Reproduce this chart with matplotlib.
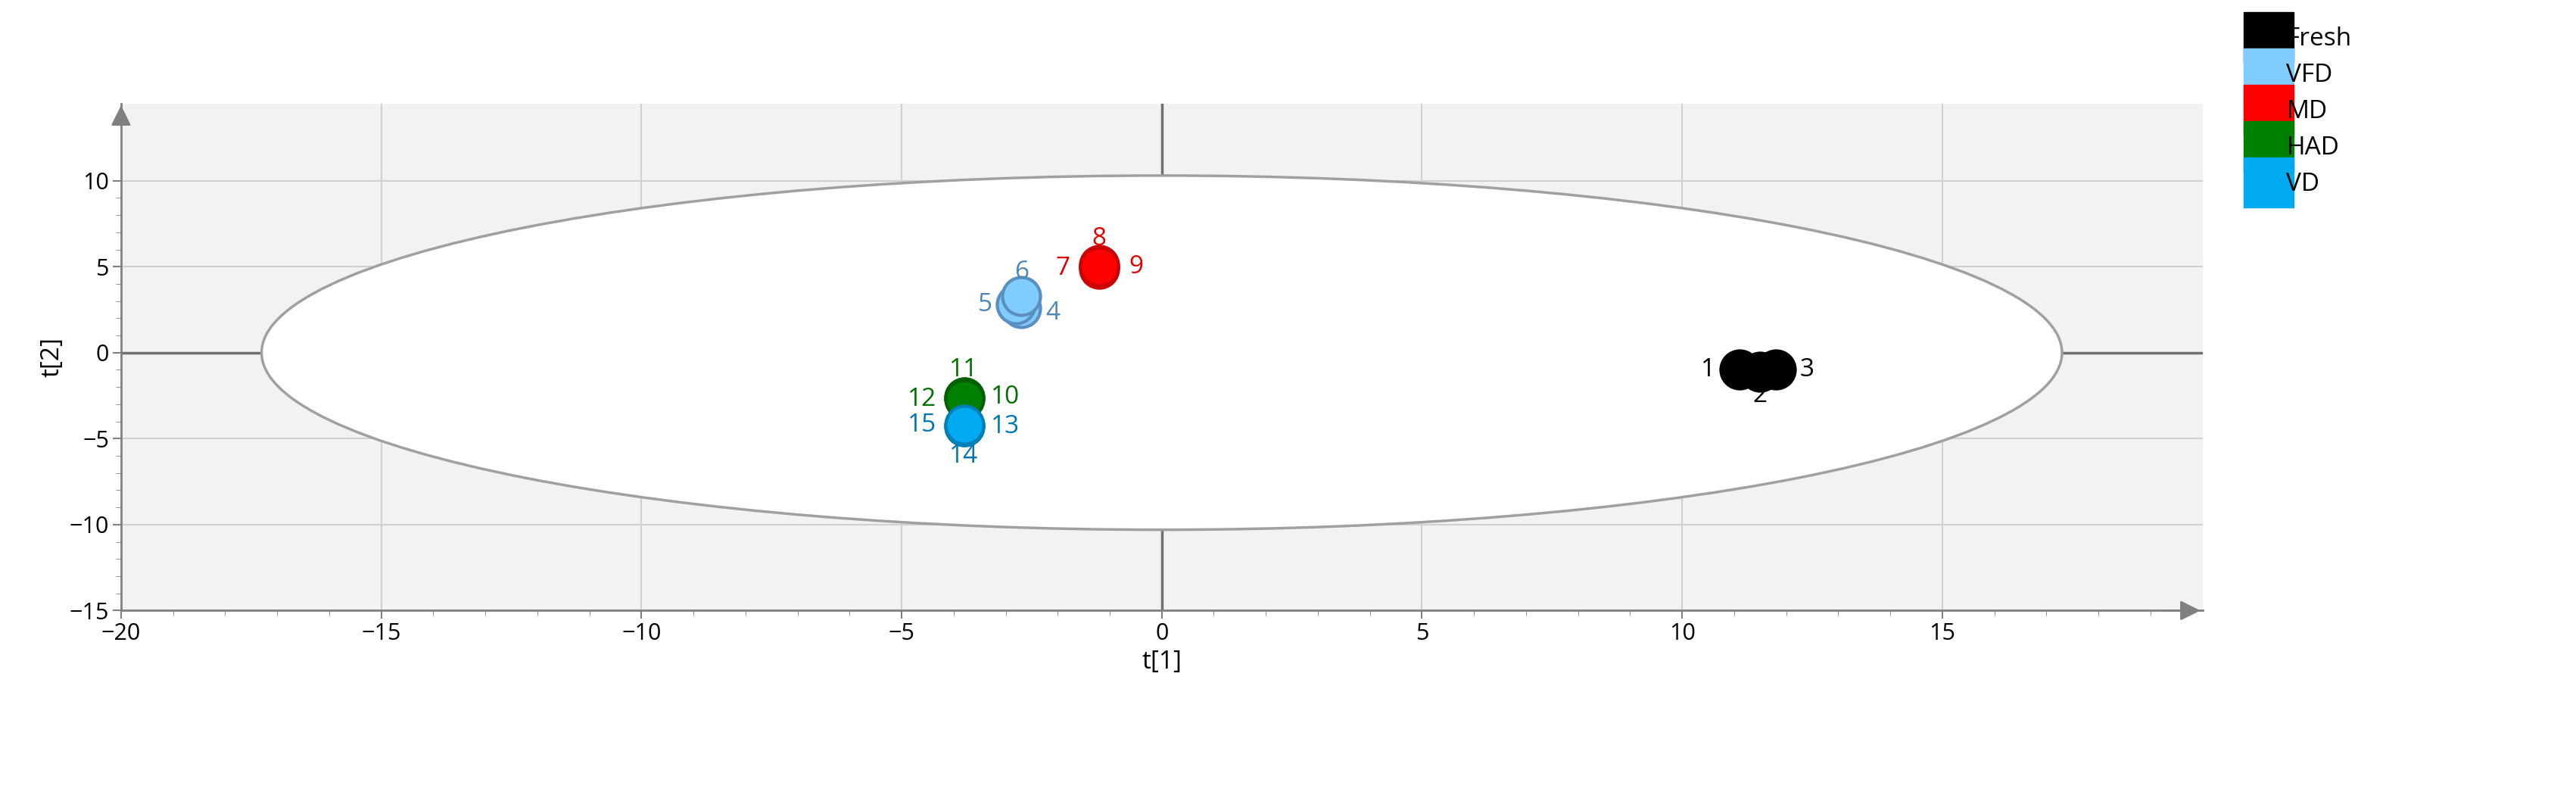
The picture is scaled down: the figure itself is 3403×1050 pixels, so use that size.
import matplotlib.pyplot as plt
from matplotlib.patches import Ellipse
from matplotlib.lines import Line2D

plt.rcParams['font.family'] = ['Open Sans', 'DejaVu Sans']

groups = ['Fresh', 'VFD', 'MD', 'HAD', 'VD']
colors = ['#000000', '#80ccff', '#ff0000', '#008000', '#00aaf0']
edges = ['#000000', '#5a8fc0', '#cc0000', '#006000', '#0080b8']
label_colors = ['#000000', '#4f86b8', '#e00000', '#007000', '#0077b0']

t1 = {'Fresh': [11.1, 11.5, 11.8], 'VFD': [-2.7, -2.8, -2.7],
      'MD': [-1.2, -1.2, -1.2], 'HAD': [-3.8, -3.8, -3.8], 'VD': [-3.8, -3.8, -3.8]}
t2 = {'Fresh': [-1.0, -1.1, -1.0], 'VFD': [2.6, 2.8, 3.3],
      'MD': [4.9, 5.1, 5.0], 'HAD': [-2.6, -2.6, -2.7], 'VD': [-4.3, -4.3, -4.2]}
ids = {'Fresh': ['1', '2', '3'], 'VFD': ['4', '5', '6'], 'MD': ['7', '8', '9'],
       'HAD': ['10', '11', '12'], 'VD': ['13', '14', '15']}
# label offsets (data units) for each point label
offs = {'Fresh': [(-0.6, 0), (0, -1.4), (0.6, 0)],
        'VFD': [(0.6, -0.3), (-0.6, 0), (0, 1.4)],
        'MD': [(-0.7, 0), (0, 1.5), (0.7, 0)],
        'HAD': [(0.8, 0), (0, 1.6), (-0.8, 0)],
        'VD': [(0.8, 0), (0, -1.7), (-0.8, 0)]}

fig = plt.figure(figsize=(34.03, 10.5), dpi=100)
ax = fig.add_axes([0.047, 0.232, 0.808, 0.638])
ax.set_facecolor('#f2f2f2')
ax.set_xlim(-20, 20)
ax.set_ylim(-15, 14.5)
ax.set_xticks(range(-20, 20, 5))
ax.set_yticks(range(-15, 11, 5))
ax.set_xticks(range(-20, 20), minor=True)
ax.set_yticks(range(-15, 11), minor=True)
ax.grid(True, color='#d0d0d0', lw=1.5)
ax.set_axisbelow(True)
for s in ['top', 'right']:
    ax.spines[s].set_visible(False)
for s in ['left', 'bottom']:
    ax.spines[s].set_color('#808080')
    ax.spines[s].set_linewidth(2)
ax.tick_params(labelsize=22, length=8, width=1.5, color='#808080')
ax.tick_params(which='minor', length=5, color='#808080')
ax.annotate('', xy=(1.0, 0), xycoords='axes fraction', xytext=(0.98, 0),
            arrowprops=dict(arrowstyle='-|>', color='#808080', lw=2, mutation_scale=40), clip_on=False)
ax.annotate('', xy=(0, 1.0), xycoords='axes fraction', xytext=(0, 0.97),
            arrowprops=dict(arrowstyle='-|>', color='#808080', lw=2, mutation_scale=40), clip_on=False)
ax.axhline(0, color='#707070', lw=2.5, zorder=1)
ax.axvline(0, color='#707070', lw=2.5, zorder=1)
ax.add_patch(Ellipse((0, 0), 34.6, 20.6, facecolor='white', edgecolor='#a0a0a0', lw=2.5, zorder=1))

for g, c, e, lc in zip(groups, colors, edges, label_colors):
    ax.scatter(t1[g], t2[g], s=1300, color=c, edgecolors=e, linewidths=3, zorder=3)
    for x, y, n, (dx, dy) in zip(t1[g], t2[g], ids[g], offs[g]):
        ax.text(x + dx, y + dy, n, color=lc, fontsize=24, ha='center', va='center', zorder=4)

ax.set_xlabel('t[1]', fontsize=24)
ax.set_ylabel('t[2]', fontsize=24)

handles = [Line2D([], [], ls='none', marker='s', markersize=48, color=c) for c in colors]
fig.legend(handles, groups, loc='upper left', bbox_to_anchor=(0.866, 0.995),
           frameon=False, fontsize=24, handletextpad=0.1, labelspacing=0.45, handlelength=1.2)

fig.savefig('out.png', dpi=100)
